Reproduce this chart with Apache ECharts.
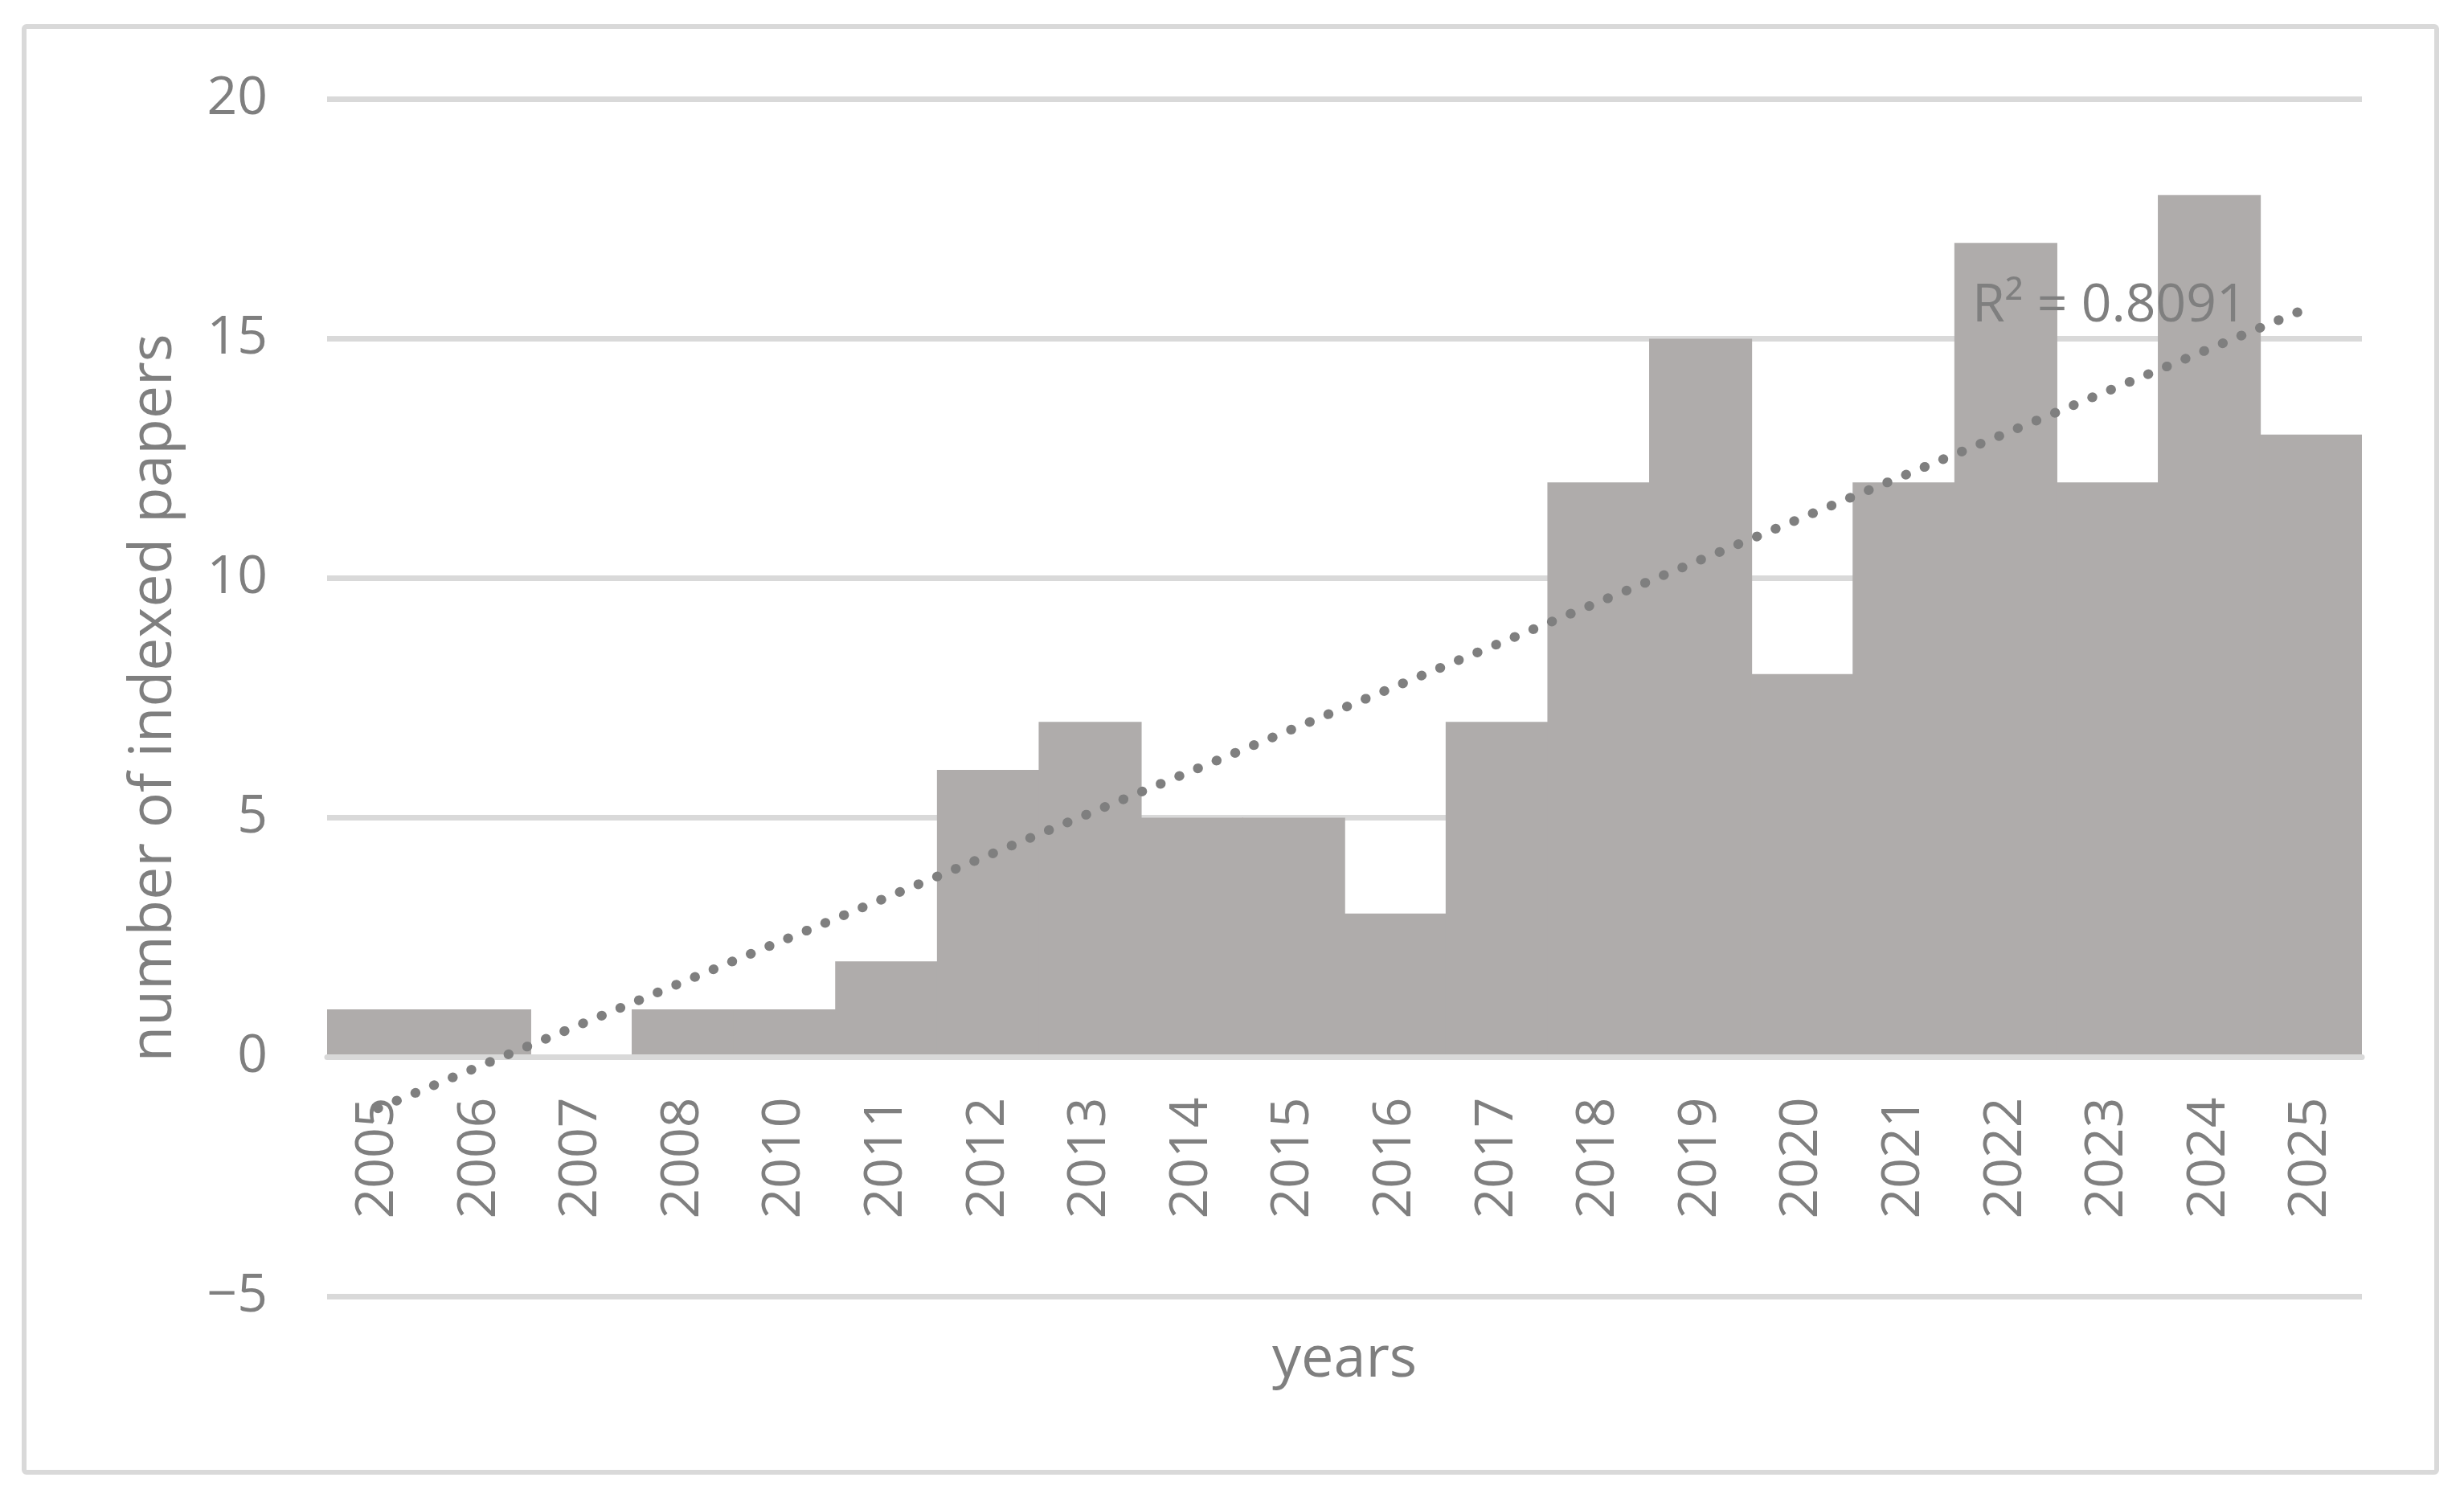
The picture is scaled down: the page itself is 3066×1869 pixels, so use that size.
<!DOCTYPE html>
<html>
<head>
<meta charset="utf-8">
<script src="https://cdn.jsdelivr.net/npm/echarts@6/dist/echarts.min.js"></script>
<style>
html,body{margin:0;padding:0;background:#fff;}
#chart{width:3066px;height:1869px;}
</style>
</head>
<body>
<div id="chart"></div>
<script>
// ---- data ----
const years = ['2005','2006','2007','2008','2010','2011','2012','2013','2014','2015','2016','2017','2018','2019','2020','2021','2022','2023','2024','2025'];
const papers = [1,1,0,1,1,2,6,7,5,5,3,7,12,15,8,12,17,12,18,13];
const trendStartEnd = [-1.07, 15.67];   // linear trendline values at first and last year
const rSquaredLabel = 'R² = 0.8091';
const yTicks = [-5, 0, 5, 10, 15, 20];
const xTitle = 'years';
const yTitle = 'number of indexed papers';

const FONT = '"Open Sans", "Noto Sans", sans-serif';
const TXT = '#7F7F7F';
const GRID = '#D9D9D9';
const BAR = '#AFACAB';

const GRID_LEFT = 407, GRID_RIGHT = 127, GRID_TOP = 123.5, GRID_H = 1490;
const yMin = yTicks[0], yMax = yTicks[yTicks.length - 1];
// the category axis sits at value 0: shift it up from the bottom edge by the scale
const zeroOffset = -GRID_H * (0 - yMin) / (yMax - yMin);

const chart = echarts.init(document.getElementById('chart'), null, {renderer: 'canvas'});
chart.setOption({
  animation: false,
  backgroundColor: '#ffffff',
  textStyle: {fontFamily: FONT},
  grid: {left: GRID_LEFT, right: GRID_RIGHT, top: GRID_TOP, height: GRID_H, containLabel: false},
  xAxis: {
    type: 'category',
    data: years,
    z: 3,
    position: 'bottom',
    offset: zeroOffset,
    axisLine: {show: true, onZero: false, lineStyle: {color: GRID, width: 7}},
    axisTick: {show: false},
    splitLine: {show: false},
    splitArea: {show: false},
    axisLabel: {interval: 0, rotate: 90, margin: 50, fontSize: 66, color: TXT, fontFamily: FONT}
  },
  yAxis: {
    type: 'value',
    min: yMin,
    max: yMax,
    interval: 5,
    axisLine: {show: false},
    axisTick: {show: false},
    splitLine: {show: true, lineStyle: {color: GRID, width: 7}},
    axisLabel: {
      margin: 74, fontSize: 66, color: TXT, fontFamily: FONT,
      formatter: v => (v < 0 ? '\u2212' + Math.abs(v) : String(v))
    }
  },
  graphic: [
    {type: 'rect', z: -1, silent: true,
     shape: {x: 30, y: 33, width: 3002, height: 1799, r: 3},
     style: {fill: 'none', stroke: GRID, lineWidth: 6}},
    {type: 'text', z: 10, silent: true,
     x: 192, y: GRID_TOP + GRID_H / 2, rotation: Math.PI / 2,
     style: {text: yTitle, fill: TXT, font: '73px ' + FONT, align: 'center', verticalAlign: 'middle'}},
    {type: 'text', z: 10, silent: true,
     x: GRID_LEFT + (3066 - GRID_LEFT - GRID_RIGHT) / 2, y: 1692,
     style: {text: xTitle, fill: TXT, font: '72px ' + FONT, align: 'center', verticalAlign: 'middle'}}
  ],
  series: [
    {
      type: 'bar',
      data: papers,
      barWidth: '101.2%',
      itemStyle: {color: BAR},
      z: 2
    },
    {
      type: 'line',
      data: [[years[0], trendStartEnd[0]], [years[years.length - 1], trendStartEnd[1]]],
      symbol: 'none',
      z: 5,
      lineStyle: {color: '#7F7F7F', width: 12, type: [0.5, 24.6], cap: 'round'},
      markPoint: {
        symbol: 'circle', symbolSize: 0,
        data: [{coord: [years[years.length - 1], trendStartEnd[1]], value: rSquaredLabel}],
        label: {show: true, position: 'left', distance: 80, formatter: rSquaredLabel,
                fontSize: 66, color: TXT, fontFamily: FONT}
      }
    }
  ]
});
</script>
</body>
</html>
